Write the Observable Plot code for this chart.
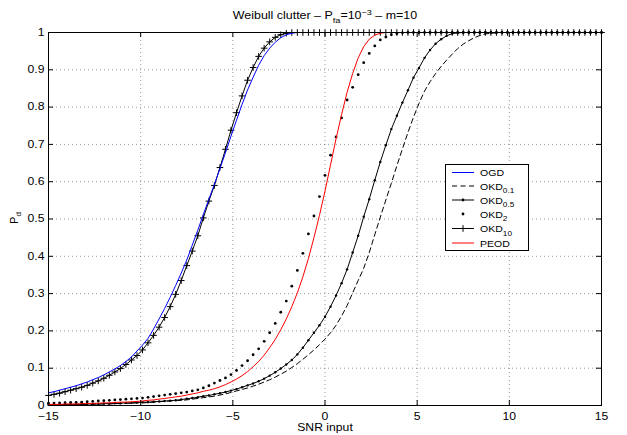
<!DOCTYPE html>
<html>
<head>
<meta charset="utf-8">
<script src="https://cdn.jsdelivr.net/npm/d3@7"></script>
<script src="https://cdn.jsdelivr.net/npm/@observablehq/plot@0.6"></script>
<style>
  html, body { margin: 0; padding: 0; background: white; }
  #chart { position: relative; width: 627px; height: 435px; }
</style>
</head>
<body>
<div id="chart"></div>
<script>
const snr = [-15,-14.7,-14.4,-14.1,-13.8,-13.5,-13.2,-12.9,-12.6,-12.3,
  -12,-11.7,-11.4,-11.1,-10.8,-10.5,-10.2,-9.9,-9.6,-9.3,
  -9,-8.7,-8.4,-8.1,-7.8,-7.5,-7.2,-6.9,-6.6,-6.3,
  -6,-5.7,-5.4,-5.1,-4.8,-4.5,-4.2,-3.9,-3.6,-3.3,
  -3,-2.7,-2.4,-2.1,-1.8,-1.5,-1.2,-0.9,-0.6,-0.3,
  0,0.3,0.6,0.9,1.2,1.5,1.8,2.1,2.4,2.7,
  3,3.3,3.6,3.9,4.2,4.5,4.8,5.1,5.4,5.7,
  6,6.3,6.6,6.9,7.2,7.5,7.8,8.1,8.4,8.7,
  9,9.3,9.6,9.9,10.2,10.5,10.8,11.1,11.4,11.7,
  12,12.3,12.6,12.9,13.2,13.5,13.8,14.1,14.4,14.7,15];

const ogd = [0.034,0.037,0.041,0.045,0.049,0.053,0.058,0.063,0.069,0.075,
  0.082,0.090,0.098,0.107,0.118,0.130,0.146,0.162,0.180,0.205,
  0.232,0.260,0.290,0.322,0.355,0.390,0.430,0.470,0.512,0.553,
  0.593,0.635,0.678,0.722,0.765,0.807,0.846,0.880,0.912,0.938,
  0.958,0.974,0.986,0.994,0.998,1,1,1,1,1,
  1,1,1,1,1,1,1,1,1,1, 1,1,1,1,1,1,1,1,1,1, 1,1,1,1,1,1,1,1,1,1,
  1,1,1,1,1,1,1,1,1,1, 1,1,1,1,1,1,1,1,1,1, 1];

const okd01 = [0.002,0.002,0.002,0.002,0.002,0.003,0.003,0.003,0.003,0.004,
  0.004,0.004,0.005,0.005,0.006,0.006,0.007,0.007,0.008,0.009,
  0.010,0.011,0.012,0.013,0.014,0.015,0.017,0.019,0.021,0.023,
  0.025,0.028,0.031,0.035,0.039,0.043,0.047,0.052,0.057,0.063,
  0.069,0.076,0.084,0.092,0.102,0.112,0.124,0.136,0.149,0.163,
  0.178,0.195,0.215,0.240,0.268,0.302,0.335,0.368,0.410,0.458,
  0.505,0.551,0.596,0.643,0.688,0.732,0.773,0.810,0.843,0.868,
  0.890,0.909,0.926,0.942,0.957,0.969,0.978,0.986,0.992,0.996,
  0.998,0.999,1,1,1,1,1,1,1,1,
  1,1,1,1,1,1,1,1,1,1,1];

const okd05 = [0.002,0.002,0.002,0.003,0.003,0.003,0.003,0.004,0.004,0.004,
  0.005,0.005,0.006,0.006,0.007,0.007,0.008,0.009,0.009,0.010,
  0.011,0.012,0.013,0.014,0.016,0.018,0.020,0.022,0.025,0.027,
  0.030,0.033,0.036,0.040,0.044,0.049,0.054,0.059,0.065,0.072,
  0.080,0.089,0.099,0.110,0.122,0.137,0.155,0.175,0.195,0.215,
  0.238,0.265,0.295,0.328,0.365,0.410,0.455,0.506,0.553,0.604,
  0.653,0.698,0.741,0.777,0.812,0.845,0.879,0.905,0.932,0.953,
  0.970,0.982,0.991,0.997,0.999,1,1,1,1,1,
  1,1,1,1,1,1,1,1,1,1, 1,1,1,1,1,1,1,1,1,1, 1];

const okd2 = [0.006,0.0065,0.007,0.0075,0.008,0.0085,0.009,0.010,0.011,0.012,
  0.013,0.014,0.015,0.016,0.017,0.018,0.019,0.020,0.022,0.024,
  0.026,0.028,0.030,0.032,0.034,0.036,0.039,0.042,0.047,0.053,
  0.060,0.067,0.074,0.083,0.094,0.107,0.120,0.136,0.152,0.172,
  0.195,0.220,0.250,0.280,0.320,0.362,0.408,0.460,0.508,0.560,
  0.617,0.671,0.720,0.771,0.819,0.853,0.887,0.919,0.944,0.964,
  0.980,0.988,0.994,0.997,0.999,1,1,1,1,1,
  1,1,1,1,1,1,1,1,1,1, 1,1,1,1,1,1,1,1,1,1, 1,1,1,1,1,1,1,1,1,1, 1];

const okd10 = [0.027,0.030,0.033,0.037,0.041,0.045,0.049,0.054,0.060,0.066,
  0.073,0.081,0.090,0.099,0.110,0.122,0.134,0.149,0.168,0.188,
  0.210,0.236,0.265,0.298,0.335,0.375,0.414,0.455,0.503,0.548,
  0.590,0.638,0.687,0.738,0.785,0.830,0.872,0.906,0.936,0.958,
  0.975,0.987,0.994,0.998,1,1,1,1,1,1,
  1,1,1,1,1,1,1,1,1,1, 1,1,1,1,1,1,1,1,1,1, 1,1,1,1,1,1,1,1,1,1,
  1,1,1,1,1,1,1,1,1,1, 1,1,1,1,1,1,1,1,1,1, 1];

const peod = [0.003,0.003,0.003,0.004,0.004,0.004,0.005,0.005,0.006,0.006,
  0.007,0.007,0.008,0.009,0.009,0.010,0.011,0.012,0.014,0.015,
  0.017,0.019,0.021,0.023,0.025,0.028,0.031,0.034,0.038,0.041,
  0.045,0.050,0.056,0.063,0.071,0.080,0.091,0.104,0.118,0.135,
  0.155,0.177,0.203,0.232,0.265,0.302,0.345,0.394,0.450,0.510,
  0.575,0.645,0.715,0.780,0.840,0.890,0.932,0.962,0.982,0.993,
  0.998,1,1,1,1,1,1,1,1,1,
  1,1,1,1,1,1,1,1,1,1, 1,1,1,1,1,1,1,1,1,1, 1,1,1,1,1,1,1,1,1,1, 1];

const xTicks = [-15, -10, -5, 0, 5, 10, 15];
const yTicks = [0, 0.1, 0.2, 0.3, 0.4, 0.5, 0.6, 0.7, 0.8, 0.9, 1];
const legendNames = [["OGD", ""], ["OKD", "0.1"], ["OKD", "0.5"], ["OKD", "2"], ["OKD", "10"], ["PEOD", ""]];

const fontFam = "'Liberation Sans', Arial, Helvetica, sans-serif";
const rows = (arr) => snr.map((x, i) => ({x, y: arr[i]}));

const plusSym = {
  draw(ctx, size) {
    const r = Math.sqrt(size / Math.PI);
    ctx.moveTo(-r, 0); ctx.lineTo(r, 0);
    ctx.moveTo(0, -r); ctx.lineTo(0, r);
  }
};

const W = 627, H = 435, ML = 48, MR = 26, MT = 32, MB = 30;
const fw = W - ML - MR, fh = H - MT - MB;
const SX = 1.22; // horizontal stretch of the reference's lettering

const chart = Plot.plot({
  width: W, height: H,
  marginLeft: ML, marginRight: MR, marginTop: MT, marginBottom: MB,
  x: {domain: [-15, 15]},
  y: {domain: [0, 1]},
  style: {fontFamily: fontFam, fontSize: "10px", background: "white", color: "black"},
  marks: [
    Plot.gridX(xTicks.slice(1, -1), {stroke: "#000", strokeOpacity: 0.4, strokeDasharray: "1,3"}),
    Plot.gridY(yTicks.slice(1, -1), {stroke: "#000", strokeOpacity: 0.4, strokeDasharray: "1,3"}),
    Plot.line(rows(okd01), {x: "x", y: "y", stroke: "black", strokeWidth: 1, strokeDasharray: "5,3.5"}),
    Plot.line(rows(okd05), {x: "x", y: "y", stroke: "black", strokeWidth: 1}),
    Plot.dot(rows(okd05), {x: "x", y: "y", r: 1.2, fill: "black"}),
    Plot.dot(rows(okd2), {x: "x", y: "y", r: 1.4, fill: "black"}),
    Plot.line(rows(okd10), {x: "x", y: "y", stroke: "black", strokeWidth: 1}),
    Plot.dot(rows(okd10), {x: "x", y: "y", symbol: plusSym, r: 3.3, stroke: "black", fill: "none", strokeWidth: 1}),
    Plot.line(rows(ogd), {x: "x", y: "y", stroke: "#0000ff", strokeWidth: 1}),
    Plot.line(rows(peod), {x: "x", y: "y", stroke: "#ff0000", strokeWidth: 1}),
    Plot.frame({stroke: "black", strokeWidth: 1}),
    Plot.ruleX(xTicks, {insetTop: fh - 5, stroke: "black"}),
    Plot.ruleX(xTicks, {insetBottom: fh - 5, stroke: "black"}),
    Plot.ruleY(yTicks, {insetRight: fw - 5, stroke: "black"}),
    Plot.ruleY(yTicks, {insetLeft: fw - 5, stroke: "black"}),
    Plot.axisX(xTicks, {tickSize: 0, tickPadding: 7, label: null, fontSize: 10}),
    Plot.axisY(yTicks, {tickSize: 0, tickPadding: 4, label: null, fontSize: 10,
      tickFormat: d => (d === 0 ? "0" : d === 1 ? "1" : d3.format(".1f")(d))}),
    Plot.text(["SNR input"], {frameAnchor: "bottom", dy: 25.5, fontSize: 10})
  ]
});
document.getElementById("chart").appendChild(chart);

const svg = d3.select(chart);

// widen the axis lettering horizontally about each text's own anchor point
svg.selectAll("g[aria-label='x-axis tick label'] text, g[aria-label='y-axis tick label'] text, g[aria-label='text'] text")
  .each(function () {
    let x = parseFloat(this.getAttribute("x"));
    if (!isFinite(x)) x = 0;
    const tr = this.getAttribute("transform") || "";
    this.setAttribute("transform", `${tr} translate(${x},0) scale(${SX},1) translate(${-x},0)`.trim());
  });

// Title
const t = svg.append("text").attr("transform", `translate(325,19) scale(${SX},1)`).attr("text-anchor", "middle")
  .attr("font-family", fontFam).attr("font-size", 10.2).attr("fill", "black");
t.append("tspan").text("Weibull clutter \u2013 P");
t.append("tspan").attr("dy", 3.5).attr("font-size", 7.5).text("fa");
t.append("tspan").attr("dy", -3.5).text("=10");
t.append("tspan").attr("dy", -4.5).attr("font-size", 7.5).text("\u22123");
t.append("tspan").attr("dy", 4.5).text(" \u2013 m=10");

// Y label
const yl = svg.append("text").attr("transform", "translate(18,218) rotate(-90)")
  .attr("text-anchor", "middle").attr("font-family", fontFam).attr("font-size", 11).attr("fill", "black");
yl.append("tspan").text("P");
yl.append("tspan").attr("dy", 3).attr("font-size", 8).text("d");

// Legend
const lg = svg.append("g").attr("font-family", fontFam).attr("font-size", 9.6);
lg.append("rect").attr("x", 445.5).attr("y", 164.5).attr("width", 83).attr("height", 86)
  .attr("fill", "white").attr("stroke", "black");
const rowY = [172.5, 186, 200, 214, 228.5, 243];
const lx1 = 452, lx2 = 474, lxm = 463, tx = 480;
const styles = [
  {stroke: "#0000ff"}, {stroke: "black", dash: "5,3.5"}, {stroke: "black", dot: true},
  {stroke: null, dot: true}, {stroke: "black", plus: true}, {stroke: "#ff0000"}
];
legendNames.forEach(([name, sub], i) => {
  const y = rowY[i], s = styles[i];
  if (s.stroke) {
    const l = lg.append("line").attr("x1", lx1).attr("x2", lx2).attr("y1", y).attr("y2", y)
      .attr("stroke", s.stroke).attr("stroke-width", 1);
    if (s.dash) l.attr("stroke-dasharray", s.dash);
  }
  if (s.dot) lg.append("circle").attr("cx", lxm).attr("cy", y).attr("r", 1.4).attr("fill", "black");
  if (s.plus) lg.append("path").attr("d", `M${lxm - 3.3},${y}H${lxm + 3.3}M${lxm},${y - 3.3}V${y + 3.3}`)
    .attr("stroke", "black").attr("fill", "none");
  const tt = lg.append("text").attr("text-anchor", "start")
    .attr("transform", `translate(${tx},${y + 3.5}) scale(1.1,1)`).attr("fill", "black");
  tt.append("tspan").text(name);
  if (sub) tt.append("tspan").attr("dy", 3.5).attr("font-size", 7.5).text(sub);
});
</script>
</body>
</html>
